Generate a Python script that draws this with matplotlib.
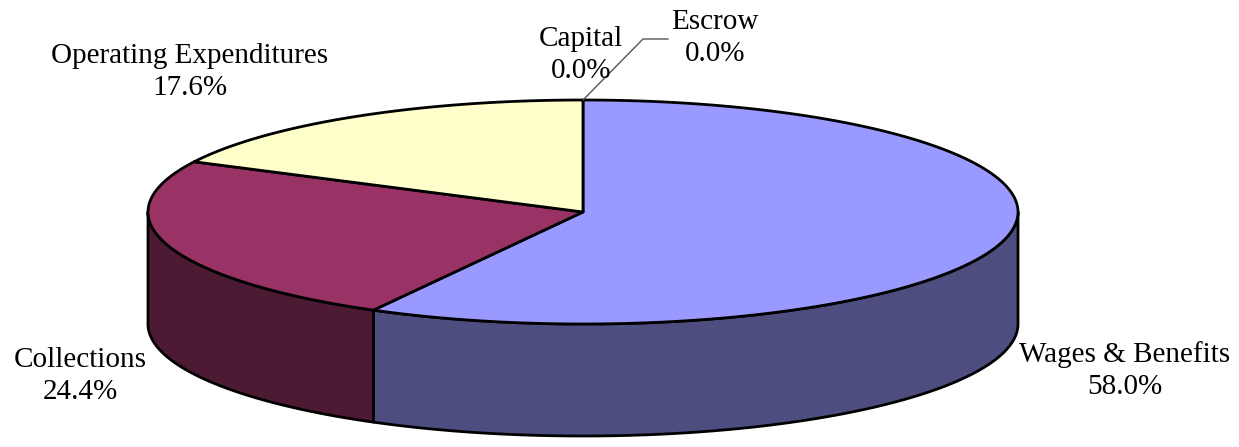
import numpy as np
import matplotlib.pyplot as plt
from matplotlib.patches import Polygon

# Datos del gráfico
labels = ['Wages & Benefits', 'Collections', 'Operating Expenditures', 'Capital', 'Escrow']
values = [58.0, 24.4, 17.6, 0.0, 0.0]
top_colors = ['#9999FF', '#993366', '#FFFFCC', '#FFFFCC', '#FFFFCC']
side_colors = ['#4D4D80', '#4D1A33', '#80806A', '#80806A', '#80806A']

# Geometría del pastel (en píxeles)
cx, cy = 583, 212
rx, ry = 435, 112
depth = 112


def pt(theta, dy=0.0):
    # theta en grados, en sentido horario desde arriba
    t = np.radians(theta)
    return cx + rx * np.sin(t), cy - ry * np.cos(t) + dy


fig = plt.figure(figsize=(12.39, 4.47), dpi=100)
ax = fig.add_axes([0, 0, 1, 1])
ax.set_xlim(0, 1239)
ax.set_ylim(447, 0)
ax.axis('off')

total = sum(values)
starts = np.cumsum([0] + values[:-1]) / total * 360
ends = np.cumsum(values) / total * 360

# Caras laterales (solo la parte frontal: 90..270 grados)
for s, e, sc, v in zip(starts, ends, side_colors, values):
    a, b = max(s, 90), min(e, 270)
    if v <= 0 or a >= b:
        continue
    th = np.linspace(a, b, 200)
    x, y = pt(th)
    xb, yb = pt(th[::-1], depth)
    poly = np.column_stack([np.concatenate([x, xb]), np.concatenate([y, yb])])
    ax.add_patch(Polygon(poly, closed=True, facecolor=sc, edgecolor='black', lw=2, joinstyle='round'))

# Caras superiores
for s, e, tc, v in zip(starts, ends, top_colors, values):
    if v <= 0:
        continue
    th = np.linspace(s, e, 300)
    x, y = pt(th)
    poly = np.column_stack([np.concatenate([[cx], x]), np.concatenate([[cy], y])])
    ax.add_patch(Polygon(poly, closed=True, facecolor=tc, edgecolor='black', lw=2, joinstyle='round'))

# Etiquetas
font = dict(family=['Liberation Serif', 'DejaVu Serif'], fontsize=21, ha='center', va='center',
            linespacing=1.3)
pos = [(1125, 371), (80, 376), (190, 72), (581, 55), (715, 38)]
for lab, v, (tx, ty) in zip(labels, values, pos):
    ax.text(tx, ty, f'{lab}\n{v:.1f}%', **font)

# Línea guía para Escrow
x0, y0 = pt(ends[-1])
ax.plot([x0, 643, 668], [y0, 39, 39], color='#555555', lw=1)

plt.savefig('out.png', dpi=100)
